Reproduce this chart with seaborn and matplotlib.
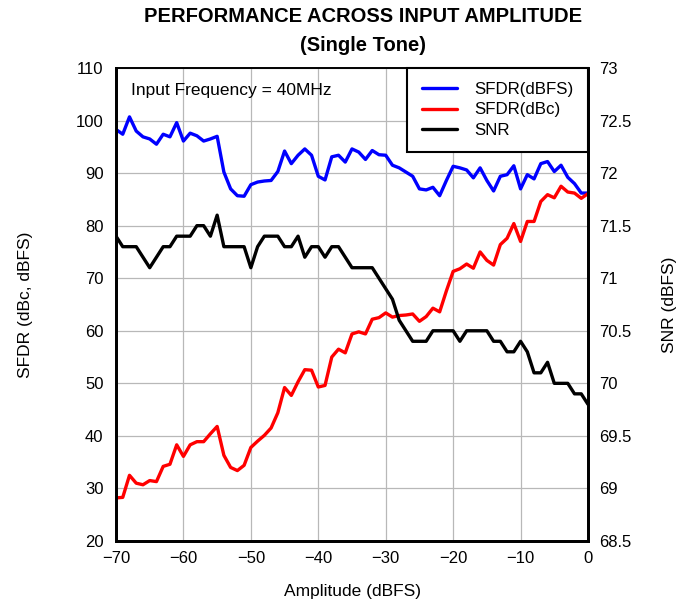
import numpy as np
import pandas as pd
import matplotlib
matplotlib.use("Agg")
import matplotlib.pyplot as plt
import seaborn as sns

# Amplitude sweep, 1 dB steps
amplitude = list(range(-70, 1))

sfdr_dbfs = [98.3, 97.4, 100.7, 98.0, 96.9, 96.5, 95.5, 97.4, 96.9, 99.6,
             96.1, 97.6, 97.1, 96.1, 96.5, 97.0, 90.2, 87.0, 85.7, 85.6,
             87.8, 88.3, 88.5, 88.6, 90.3, 94.2, 91.8, 93.4, 94.6, 93.4,
             89.4, 88.7, 93.1, 93.4, 92.1, 94.6, 94.0, 92.6, 94.3, 93.5,
             93.4, 91.5, 91.0, 90.2, 89.4, 87.0, 86.8, 87.3, 85.7, 88.6,
             91.3, 91.0, 90.6, 89.1, 91.0, 88.6, 86.6, 89.4, 89.7, 91.4,
             87.0, 89.7, 88.9, 91.8, 92.2, 90.3, 91.5, 89.2, 88.0, 86.2,
             86.2]

sfdr_dbc = [28.2, 28.3, 32.5, 31.0, 30.7, 31.5, 31.3, 34.2, 34.6, 38.3,
            36.1, 38.3, 38.9, 38.9, 40.4, 41.8, 36.3, 34.0, 33.4, 34.4,
            37.8, 39.0, 40.1, 41.5, 44.4, 49.2, 47.7, 50.3, 52.6, 52.5,
            49.3, 49.6, 55.0, 56.5, 55.8, 59.4, 59.8, 59.4, 62.2, 62.5,
            63.4, 62.6, 62.9, 63.0, 63.2, 61.8, 62.7, 64.3, 63.6, 67.6,
            71.3, 71.8, 72.7, 71.9, 75.0, 73.4, 72.5, 76.4, 77.6, 80.4,
            77.0, 80.8, 80.8, 84.6, 85.9, 85.3, 87.5, 86.4, 86.2, 85.2,
            86.1]

snr = [71.4, 71.3, 71.3, 71.3, 71.2, 71.1, 71.2, 71.3, 71.3, 71.4,
       71.4, 71.4, 71.5, 71.5, 71.4, 71.6, 71.3, 71.3, 71.3, 71.3,
       71.1, 71.3, 71.4, 71.4, 71.4, 71.3, 71.3, 71.4, 71.2, 71.3,
       71.3, 71.2, 71.3, 71.3, 71.2, 71.1, 71.1, 71.1, 71.1, 71.0,
       70.9, 70.8, 70.6, 70.5, 70.4, 70.4, 70.4, 70.5, 70.5, 70.5,
       70.5, 70.4, 70.5, 70.5, 70.5, 70.5, 70.4, 70.4, 70.3, 70.3,
       70.4, 70.3, 70.1, 70.1, 70.2, 70.0, 70.0, 70.0, 69.9, 69.9,
       69.8]

df = pd.DataFrame({"Amplitude": amplitude, "SFDR(dBFS)": sfdr_dbfs,
                   "SFDR(dBc)": sfdr_dbc, "SNR": snr})

sns.set_style("white")
plt.rcParams["font.family"] = ["Liberation Sans", "DejaVu Sans"]
plt.rcParams["text.color"] = "black"
plt.rcParams["axes.labelcolor"] = "black"
plt.rcParams["xtick.color"] = "black"
plt.rcParams["ytick.color"] = "black"

fig = plt.figure(figsize=(6.92, 6.04), dpi=100)
ax = fig.add_axes([116 / 692, 1 - 541 / 604, 472 / 692, 473 / 604])
ax2 = ax.twinx()

sns.lineplot(data=df, x="Amplitude", y="SFDR(dBFS)", ax=ax, color="#0000ff",
             linewidth=2.4, label="SFDR(dBFS)", legend=False)
sns.lineplot(data=df, x="Amplitude", y="SFDR(dBc)", ax=ax, color="#ff0000",
             linewidth=2.4, label="SFDR(dBc)", legend=False)
sns.lineplot(data=df, x="Amplitude", y="SNR", ax=ax2, color="black",
             linewidth=2.4, label="SNR", legend=False)

ax.set_xlim(-70, 0)
ax.set_ylim(20, 110)
ax2.set_ylim(68.5, 73)
ax.set_xticks(range(-70, 1, 10))
ax.set_xticklabels(["\u221270", "\u221260", "\u221250", "\u221240", "\u221230",
                    "\u221220", "\u221210", "0"])
ax.set_yticks(range(20, 111, 10))
ax2.set_yticks([68.5, 69, 69.5, 70, 70.5, 71, 71.5, 72, 72.5, 73])
ax2.set_yticklabels(["68.5", "69", "69.5", "70", "70.5", "71", "71.5", "72",
                     "72.5", "73"])

ax.grid(True, color="#b8b8b8", linewidth=0.9)
ax.set_axisbelow(True)
ax.tick_params(axis="both", length=0, labelsize=12, pad=7)
ax.tick_params(axis="y", pad=9)
ax2.tick_params(axis="y", length=0, labelsize=12, pad=8)

for a in (ax, ax2):
    for side in ("left", "right", "bottom"):
        a.spines[side].set_color("black")
        a.spines[side].set_linewidth(2)
    a.spines["top"].set_color("black")
    a.spines["top"].set_linewidth(1.2)

ax.set_xlabel("Amplitude (dBFS)", fontsize=12.5)
ax.set_ylabel("SFDR (dBc, dBFS)", fontsize=12.5)
ax2.set_ylabel("SNR (dBFS)", fontsize=12.5)
ax.xaxis.set_label_coords(0.5, -0.09)
ax.yaxis.set_label_coords(-0.176, 0.5)
ax2.yaxis.set_label_coords(1.157, 0.5)

fig.text(363 / 692, 1 - 17 / 604, "PERFORMANCE ACROSS INPUT AMPLITUDE",
         ha="center", va="center", fontsize=14.5, fontweight="bold")
fig.text(363 / 692, 1 - 45.5 / 604, "(Single Tone)",
         ha="center", va="center", fontsize=14.5, fontweight="bold")

ax.text(-67.8, 105.8, "Input Frequency = 40MHz", fontsize=12.5, va="center")

h1, l1 = ax.get_legend_handles_labels()
h2, l2 = ax2.get_legend_handles_labels()
leg = ax2.legend(h1 + h2, l1 + l2, loc="upper right", bbox_to_anchor=(1.0, 1.0),
                 fontsize=12.2, frameon=True, fancybox=False, framealpha=1,
                 edgecolor="black", borderaxespad=0, labelspacing=0.3,
                 handlelength=2.1, handletextpad=1.0, borderpad=0.85)
leg.get_frame().set_linewidth(1.5)

fig.savefig("out.png", dpi=100)
